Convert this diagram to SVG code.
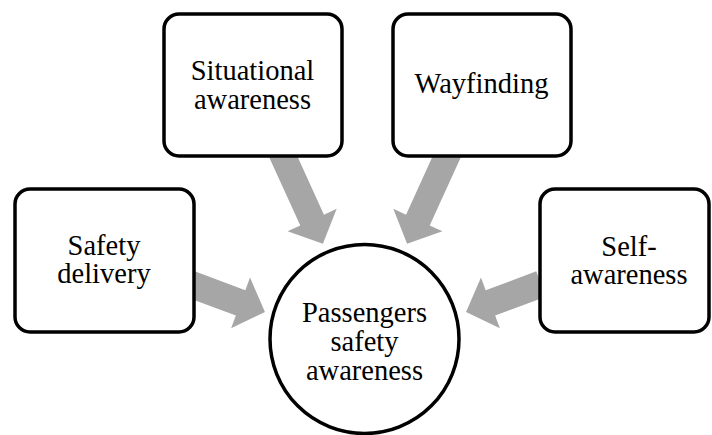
<svg xmlns="http://www.w3.org/2000/svg" width="712" height="435" viewBox="0 0 712 435">
<style>
.box{fill:#fff;stroke:#000;stroke-width:3.5}
.arrow{fill:#A6A6A6;stroke:none}
text{font-family:"Liberation Serif","Times New Roman",serif;font-size:28.5px;fill:#000;text-anchor:middle}
</style>
<defs>
<path id="arr" d="M0,-13 L-26,-13 L-26,-27 L0,0 L-26,27 L-26,13 Z"/>
</defs>
<rect width="712" height="435" fill="#fff"/>
<g id="connectors">
  <path class="arrow" d="M0,-13 L77,-13 L77,-27 L103,0 L77,27 L77,13 L0,13 Z" transform="translate(280.2,150) rotate(65.5)"/>
  <path class="arrow" d="M0,-13 L77,-13 L77,-27 L103,0 L77,27 L77,13 L0,13 Z" transform="translate(449.8,150) rotate(114.5)"/>
  <path class="arrow" d="M0,-13.5 L54,-13.5 L54,-27 L80,0 L54,27 L54,13.5 L0,13.5 Z" transform="translate(190,284) rotate(20.5)"/>
  <path class="arrow" d="M0,-13.5 L54,-13.5 L54,-27 L80,0 L54,27 L54,13.5 L0,13.5 Z" transform="translate(541,284) rotate(159.5)"/>
</g>
<g id="situational">
  <rect class="box" x="164" y="14" width="178" height="142" rx="15"/>
  <text x="252.5" y="80">Situational</text>
  <text x="252.5" y="109">awareness</text>
</g>
<g id="wayfinding">
  <rect class="box" x="393" y="14" width="178" height="142" rx="15"/>
  <text x="481.5" y="93">Wayfinding</text>
</g>
<g id="safety-delivery">
  <rect class="box" x="15" y="189" width="179" height="143" rx="15"/>
  <text x="104" y="255">Safety</text>
  <text x="104" y="283">delivery</text>
</g>
<g id="self-awareness">
  <rect class="box" x="540" y="189" width="169" height="143" rx="15"/>
  <text x="629" y="256">Self-</text>
  <text x="629" y="284">awareness</text>
</g>
<g id="passengers">
  <circle class="box" cx="364.5" cy="339" r="94.5"/>
  <text x="364.5" y="322">Passengers</text>
  <text x="364.5" y="351">safety</text>
  <text x="364.5" y="380">awareness</text>
</g>
</svg>
